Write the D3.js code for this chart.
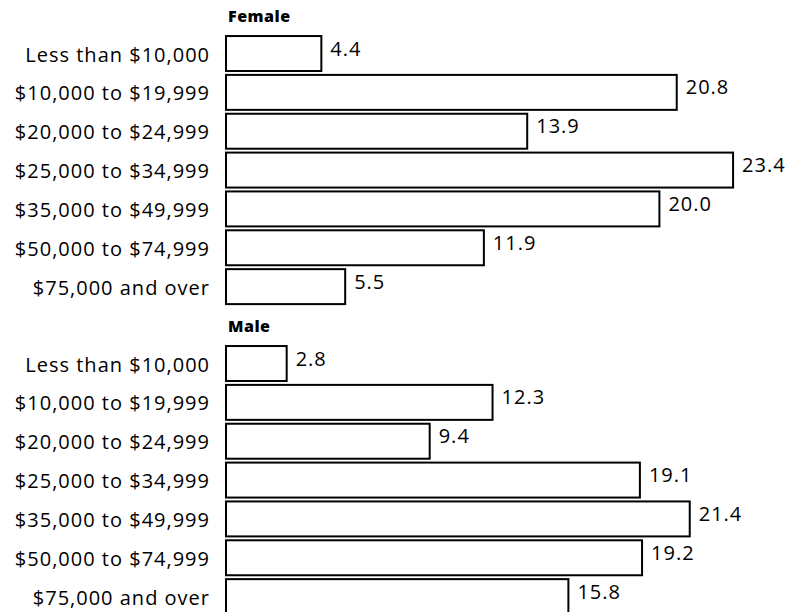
<!DOCTYPE html>
<html>
<head>
<meta charset="utf-8">
<script src="https://cdn.jsdelivr.net/npm/d3@7"></script>
<style>
  body { margin: 0; background: #fff; }
  text { font-family: "Open Sans", "DejaVu Sans", sans-serif; fill: #000; }
</style>
</head>
<body>
<div id="chart"></div>
<script>
    // income brackets, same for both groups
    const categories = ['Less than $10,000', '$10,000 to $19,999', '$20,000 to $24,999',
        '$25,000 to $34,999', '$35,000 to $49,999', '$50,000 to $74,999', '$75,000 and over'];
    const femaleValues = [4.4, 20.8, 13.9, 23.4, 20.0, 11.9, 5.5];
    const maleValues = [2.8, 12.3, 9.4, 19.1, 21.4, 19.2, 15.8];
    const groups = [
        { name: 'Female', values: femaleValues },
        { name: 'Male', values: maleValues }
    ];

    const width = 791;
    const height = 612;
    const step = 38.85;
    const barLeft = 226;

    const svg = d3.select('#chart')
        .append('svg')
        .attr('width', width)
        .attr('height', height);

    const x = d3.scaleLinear()
        .domain([0, 23.4])
        .range([barLeft, barLeft + 23.4 * 21.67]);

    // each group starts at its own top; title row sits above the first bar
    const groupTops = [34.1, 344.1];

    groups.forEach((grp, gi) => {
        const top = groupTops[gi];
        const y = d3.scaleBand()
            .domain(categories)
            .range([top, top + categories.length * step])
            .paddingInner(0.1)
            .paddingOuter(0.05);

        const g = svg.append('g');

        g.append('text')
            .attr('x', barLeft + 2)
            .attr('y', y(categories[0]) - 14)
            .attr('font-size', 16)
            .attr('font-weight', 800)
            .attr('letter-spacing', 0.5)
            .text(grp.name);

        const rows = g.selectAll('g.row')
            .data(categories.map((c, i) => ({ cat: c, val: grp.values[i] })))
            .join('g')
            .attr('class', 'row');

        rows.append('rect')
            .attr('x', x(0))
            .attr('y', d => y(d.cat))
            .attr('width', d => x(d.val) - x(0))
            .attr('height', y.bandwidth())
            .attr('fill', '#fff')
            .attr('stroke', '#000')
            .attr('stroke-width', 2);

        rows.append('text')
            .attr('x', barLeft - 16)
            .attr('y', d => y(d.cat) + y.bandwidth() / 2 + 1)
            .attr('dy', '0.35em')
            .attr('text-anchor', 'end')
            .attr('font-size', 20)
            .attr('letter-spacing', 1)
            .text(d => d.cat);

        rows.append('text')
            .attr('x', d => x(d.val) + 9)
            .attr('y', d => y(d.cat) + y.bandwidth() / 2 - 5)
            .attr('dy', '0.35em')
            .attr('font-size', 20)
            .attr('letter-spacing', 1)
            .text(d => d.val.toFixed(1));
    });
</script>
</body>
</html>
